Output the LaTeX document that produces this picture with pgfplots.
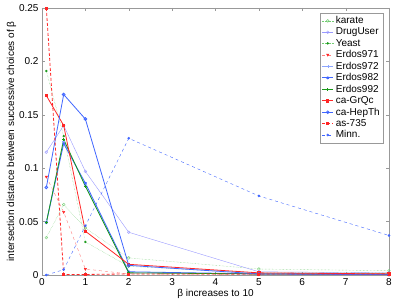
\documentclass[border=0pt]{standalone}
\usepackage{pgfplots}
\pgfplotsset{compat=1.18}
\usepackage{fontspec}
\setmainfont{Liberation Sans}
\definecolor{mgreen}{rgb}{0.1,0.6,0.1}
\definecolor{lgreen}{rgb}{0.45,0.8,0.45}
\definecolor{mblue}{rgb}{0.25,0.4,1}
\definecolor{lblue}{rgb}{0.55,0.65,1}
\definecolor{lpurple}{rgb}{0.6,0.6,1}
\definecolor{mred}{rgb}{1,0.15,0.15}
\definecolor{lred}{rgb}{1,0.5,0.5}
\begin{document}
\begin{tikzpicture}
\begin{axis}[
  scale only axis, width=347pt, height=267pt,
  xmin=0, xmax=8, ymin=0, ymax=0.25,
  xtick={0,1,...,8}, ytick={0,0.05,0.1,0.15,0.2,0.25},
  yticklabels={0,0.05,0.1,0.15,0.2,0.25},
  /pgf/number format/assume math mode=true,
  tick label style={font=\fontsize{10}{12}\selectfont},
  label style={font=\fontsize{10}{12}\selectfont},
  xlabel={β  increases to 10},
  ylabel={intersection distance between successive choices of β},
  xlabel style={yshift=3pt},
  ylabel style={yshift=-4pt},
  axis line style={gray!80},
  tick style={gray!80},
  tick align=inside,
  major tick length=3pt,
  legend style={at={(0.984,0.982)},anchor=north east,draw=gray!80,
    font=\fontsize{10}{12}\selectfont,row sep=-1.2pt,inner sep=1.5pt},
  legend cell align=left,
  legend image code/.code={\draw[mark repeat=2,mark phase=2] plot coordinates {(0cm,0cm)(0.2cm,0cm)(0.4cm,0cm)};},
  mark size=1.4pt,
]
% karate
\addplot[lgreen, densely dotted, thin, mark=o, mark options={solid}] coordinates {(0.1,0.035)(0.5,0.066)(1,0.044)(2,0.016)(5,0.0056)(8,0.004)};
\addlegendentry{karate}
% DrugUser
\addplot[lpurple, thin, mark=o, mark options={solid}] coordinates {(0.1,0.115)(0.5,0.14)(1,0.097)(2,0.040)(5,0.003)(8,0.002)};
\addlegendentry{DrugUser}
% Yeast
\addplot[lgreen, densely dotted, thin, mark=*, mark options={solid,mgreen,scale=0.7}] coordinates {(0.1,0.191)(0.5,0.13)(1,0.031)(2,0.008)(5,0.002)(8,0.002)};
\addlegendentry{Yeast}
% Erdos971
\addplot[lred, dashed, thin, mark=triangle*, mark options={solid,mred,rotate=180}] coordinates {(0.1,0.092)(0.5,0.059)(1,0.0056)(2,0.001)(5,0.0005)(8,0.0005)};
\addlegendentry{Erdos971}
% Erdos972
\addplot[lblue, thin, mark=+, mark options={solid}] coordinates {(0.1,0.05)(0.5,0.125)(1,0.084)(2,0.002)(5,0.001)(8,0.0005)};
\addlegendentry{Erdos972}
% Erdos982
\addplot[mblue, thick, mark=asterisk, mark options={solid}] coordinates {(0.1,0.049)(0.5,0.123)(1,0.086)(2,0.003)(5,0.001)(8,0.0005)};
\addlegendentry{Erdos982}
% Erdos992
\addplot[mgreen, thick, mark=+, mark options={solid}] coordinates {(0.1,0.049)(0.5,0.127)(1,0.083)(2,0.002)(5,0.001)(8,0.001)};
\addlegendentry{Erdos992}
% ca-GrQc
\addplot[mred, thick, mark=square*, mark options={solid,scale=0.8}] coordinates {(0.1,0.168)(0.5,0.14)(1,0.041)(2,0.010)(5,0.002)(8,0.001)};
\addlegendentry{ca-GrQc}
% ca-HepTh
\addplot[mblue, thick, mark=o, mark options={solid}] coordinates {(0.1,0.082)(0.5,0.169)(1,0.146)(2,0.009)(5,0.001)(8,0.0003)};
\addlegendentry{ca-HepTh}
% as-735
\addplot[mred, densely dashed, thick, mark=square*, mark options={solid,scale=0.7}] coordinates {(0.1,0.25)(0.5,0.0005)(1,0.0005)(2,0.001)(5,0.001)(8,0.001)};
\addlegendentry{as-735}
% Minn.
\addplot[mblue, dashed, mark=*, mark options={solid,scale=0.8}] coordinates {(0.1,0)(0.5,0.005)(1,0.046)(2,0.128)(5,0.074)(8,0.037)};
\addlegendentry{Minn.}
\end{axis}
\path (current axis.south west) ++(-42pt,-30pt) (current axis.north east) ++(10pt,8pt);
\end{tikzpicture}
\end{document}
